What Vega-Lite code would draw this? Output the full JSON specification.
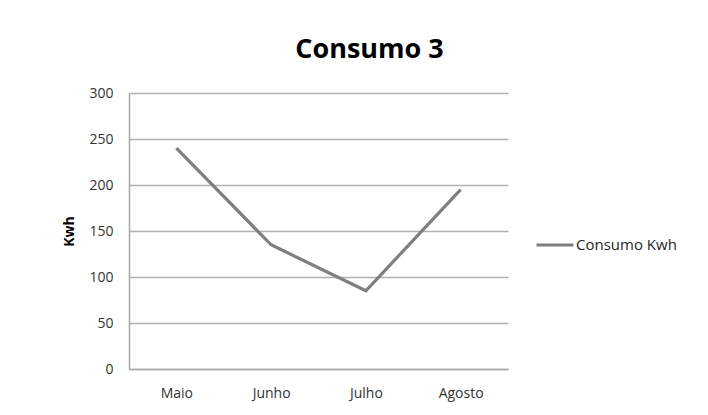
{
  "$schema": "https://vega.github.io/schema/vega-lite/v6.json",
  "width": 379,
  "height": 276,
  "autosize": {"type": "none"},
  "padding": {"left": 129, "top": 93, "right": 200, "bottom": 46},
  "background": "white",
  "title": {
    "text": "Consumo 3",
    "font": "Open Sans",
    "fontSize": 27,
    "fontWeight": "bold",
    "color": "#000000",
    "anchor": "middle",
    "dx": 51,
    "offset": 22
  },
  "data": {
    "values": [
      {"mes": "Maio", "kwh": 240, "serie": "Consumo Kwh"},
      {"mes": "Junho", "kwh": 135, "serie": "Consumo Kwh"},
      {"mes": "Julho", "kwh": 85, "serie": "Consumo Kwh"},
      {"mes": "Agosto", "kwh": 195, "serie": "Consumo Kwh"}
    ]
  },
  "mark": {"type": "line", "strokeWidth": 3.2},
  "encoding": {
    "x": {
      "field": "mes",
      "type": "nominal",
      "sort": null,
      "axis": {
        "title": null,
        "labelAngle": 0,
        "labelFont": "Open Sans",
        "labelFontSize": 14,
        "labelColor": "#333333",
        "labelPadding": 17,
        "ticks": false,
        "domain": true,
        "domainColor": "#a6a6a6",
        "domainWidth": 1.5,
        "grid": false
      }
    },
    "y": {
      "field": "kwh",
      "type": "quantitative",
      "scale": {"domain": [0, 300], "nice": false},
      "axis": {
        "title": "Kwh",
        "titleFont": "Open Sans",
        "titleFontSize": 14,
        "titleFontWeight": "bold",
        "titleColor": "#000000",
        "titlePadding": 12,
        "values": [0, 50, 100, 150, 200, 250, 300],
        "labelFont": "Open Sans",
        "labelFontSize": 14,
        "labelColor": "#333333",
        "labelPadding": 16,
        "ticks": false,
        "domain": true,
        "domainColor": "#a6a6a6",
        "domainWidth": 1.5,
        "grid": true,
        "gridColor": "#b0b0b0",
        "gridWidth": 1.5
      }
    },
    "color": {
      "field": "serie",
      "type": "nominal",
      "scale": {"range": ["#7f7f7f"]},
      "legend": {
        "title": null,
        "orient": "none",
        "legendX": 406,
        "legendY": 132,
        "padding": 0,
        "symbolType": "stroke",
        "symbolSize": 1369,
        "symbolStrokeWidth": 3,
        "labelOffset": 1,
        "labelFont": "Open Sans",
        "labelFontSize": 15,
        "labelColor": "#262626"
      }
    }
  },
  "config": {"view": {"stroke": null}}
}
